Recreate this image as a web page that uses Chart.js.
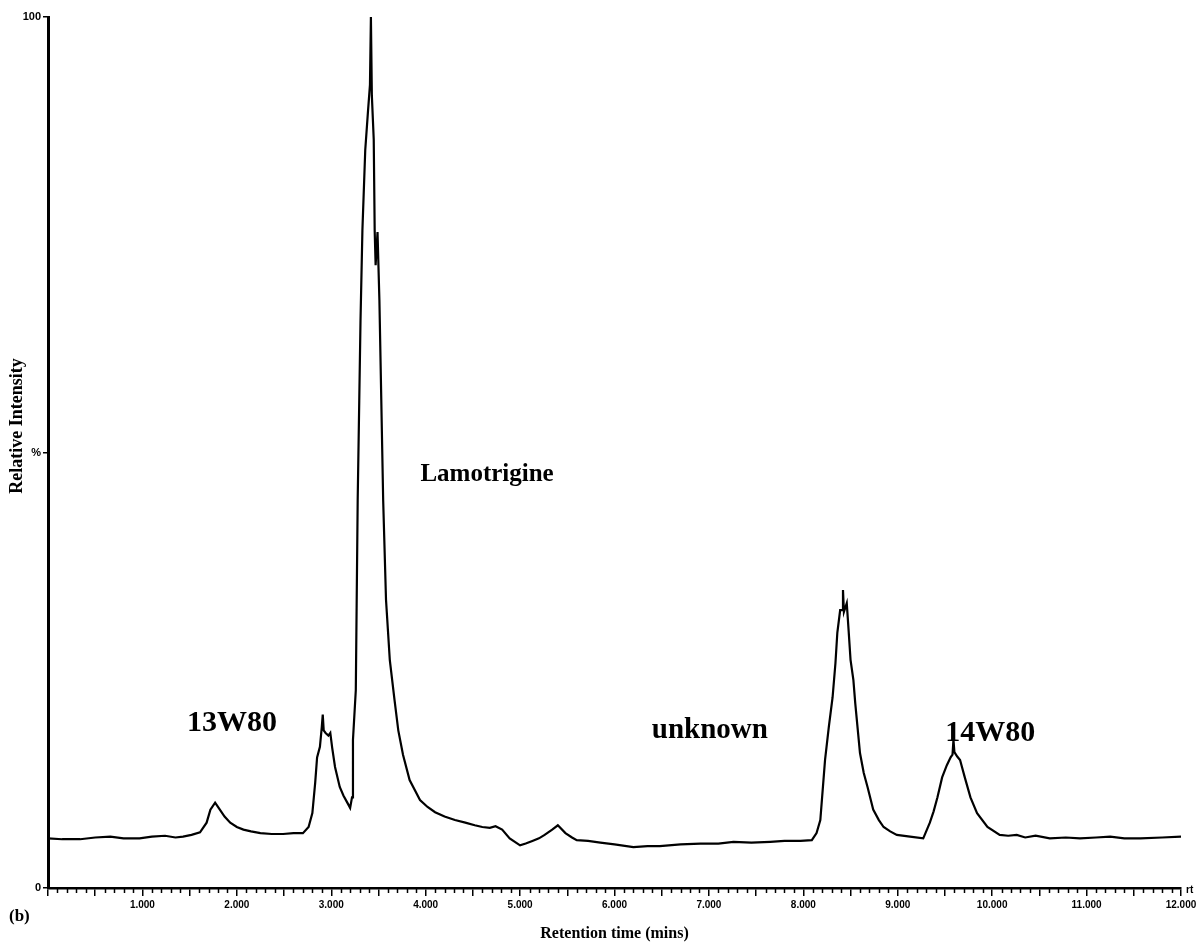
<!DOCTYPE html>
<html>
<head>
<meta charset="utf-8">
<title>Chromatogram (b)</title>
<script src="https://cdn.jsdelivr.net/npm/chart.js@4.4.1/dist/chart.umd.min.js"></script>
<style>
  html, body { margin: 0; padding: 0; background: #fff; }
</style>
</head>
<body>
<canvas id="myChart" width="1201" height="943"></canvas>
<script>
// *******************  data

// retention time (mins)
let retTime = [
  0.00, 0.15, 0.34, 0.50, 0.66, 0.80, 0.97, 1.10, 1.24, 1.35,
  1.43, 1.52, 1.61, 1.68, 1.72, 1.77, 1.82, 1.87, 1.93, 2.00,
  2.07, 2.15, 2.25, 2.37, 2.49, 2.60, 2.70, 2.76, 2.80, 2.83,
  2.85, 2.88, 2.90, 2.91, 2.92, 2.94, 2.97, 2.99, 3.01, 3.04,
  3.09, 3.13, 3.17, 3.20, 3.22, 3.23, 3.26, 3.28, 3.31, 3.33,
  3.36, 3.39, 3.41, 3.42, 3.43, 3.45, 3.46, 3.47, 3.49, 3.51,
  3.53, 3.55, 3.58, 3.62, 3.67, 3.71, 3.76, 3.83, 3.94, 4.02,
  4.10, 4.20, 4.31, 4.42, 4.52, 4.60, 4.68, 4.74, 4.81, 4.89,
  5.00, 5.06, 5.13, 5.20, 5.26, 5.34, 5.40, 5.48, 5.55, 5.60,
  5.72, 5.85, 6.00, 6.20, 6.35, 6.48, 6.70, 6.91, 7.10, 7.26,
  7.45, 7.65, 7.80, 7.97, 8.09, 8.14, 8.18, 8.23, 8.27, 8.31,
  8.34, 8.36, 8.39, 8.41, 8.42, 8.43, 8.46, 8.48, 8.50, 8.53,
  8.55, 8.60, 8.64, 8.68, 8.74, 8.80, 8.85, 8.92, 8.99, 9.13,
  9.27, 9.34, 9.38, 9.42, 9.47, 9.52, 9.56, 9.58, 9.59, 9.60,
  9.63, 9.66, 9.71, 9.77, 9.84, 9.95, 10.08, 10.17, 10.26, 10.35,
  10.46, 10.61, 10.78, 10.93, 11.10, 11.25, 11.40, 11.57, 11.80, 12.00
];

// relative intensity (%)
let intensity = [
  5.7, 5.6, 5.6, 5.8, 5.9, 5.7, 5.7, 5.9, 6.0, 5.8,
  5.9, 6.1, 6.4, 7.5, 9.0, 9.8, 9.0, 8.2, 7.5, 7.0,
  6.7, 6.5, 6.3, 6.2, 6.2, 6.3, 6.3, 7.0, 8.6, 12.1,
  15.0, 16.2, 18.5, 19.9, 18.1, 17.8, 17.5, 17.8, 16.1, 13.9,
  11.6, 10.6, 9.8, 9.2, 10.4, 17.0, 22.7, 44.5, 65.2, 75.5,
  84.7, 89.3, 92.2, 100, 91.0, 85.9, 75.5, 71.5, 75.3, 67.5,
  56.0, 44.5, 33.1, 26.2, 21.6, 18.1, 15.3, 12.4, 10.1, 9.3,
  8.7, 8.2, 7.8, 7.5, 7.2, 7.0, 6.9, 7.1, 6.7, 5.7,
  4.9, 5.1, 5.4, 5.7, 6.1, 6.7, 7.2, 6.3, 5.8, 5.5,
  5.4, 5.2, 5.0, 4.7, 4.8, 4.8, 5.0, 5.1, 5.1, 5.3,
  5.2, 5.3, 5.4, 5.4, 5.5, 6.3, 7.8, 14.7, 18.5, 21.9,
  25.8, 29.3, 31.9, 31.9, 34.2, 31.7, 32.7, 29.5, 26.2, 23.9,
  21.2, 15.5, 13.2, 11.6, 9.0, 7.8, 7.0, 6.5, 6.1, 5.9,
  5.7, 7.5, 8.8, 10.4, 12.7, 14.1, 15.0, 15.3, 17.0, 15.6,
  15.1, 14.7, 12.7, 10.4, 8.6, 7.0, 6.1, 6.0, 6.1, 5.8,
  6.0, 5.7, 5.8, 5.7, 5.8, 5.9, 5.7, 5.7, 5.8, 5.9
];

// y axis only carries 0, % and 100
let yTickValues = [0, 50, 100];
let yTickLabels = ['0', '%', '100'];

// peak names and where they sit (time, intensity)
let peakNames = ['13W80', 'Lamotrigine', 'unknown', '14W80'];
let peakNameTime = [1.95, 4.65, 7.01, 9.98];
let peakNameLevel = [18.9, 47.5, 18.1, 17.8];
let peakNameSize = [30, 25, 29, 30];

// *******************  build points

let points = [];
for (let i = 0; i < retTime.length; i++) {
  points.push({ x: retTime[i], y: intensity[i] });
}

// *******************  extra drawing: minor ticks, titles, peak names

const extras = {
  id: 'extras',
  afterDraw(chart) {
    const c = chart.ctx;
    const xs = chart.scales.x;
    const ys = chart.scales.y;
    c.save();
    c.strokeStyle = '#000';
    c.lineWidth = 1.5;
    // minor ticks every 0.1 min
    for (let i = 1; i < 120; i++) {
      if (i % 5 === 0) continue;
      let px = Math.round(xs.getPixelForValue(i / 10)) + 0.5;
      c.beginPath();
      c.moveTo(px, ys.bottom);
      c.lineTo(px, ys.bottom + 5);
      c.stroke();
    }
    c.fillStyle = '#000';
    // y title
    c.save();
    c.translate(17, 426);
    c.rotate(-Math.PI / 2);
    c.textAlign = 'center';
    c.textBaseline = 'middle';
    c.font = 'bold 18px "Liberation Serif"';
    c.fillText('Relative Intensity', 0, 0);
    c.restore();
    // panel letter and rt mark
    c.textAlign = 'left';
    c.textBaseline = 'alphabetic';
    c.font = 'bold 17px "Liberation Serif"';
    c.fillText('(b)', 9, 921);
    c.font = 'bold 10px "Liberation Sans"';
    c.fillText('rt', 1186, 893);
    // peak names
    c.textAlign = 'center';
    c.textBaseline = 'middle';
    for (let i = 0; i < peakNames.length; i++) {
      c.font = 'bold ' + peakNameSize[i] + 'px "Liberation Serif"';
      c.fillText(peakNames[i], xs.getPixelForValue(peakNameTime[i]), ys.getPixelForValue(peakNameLevel[i]));
    }
    c.restore();
  }
};

// *******************  chart

let ctx = document.getElementById('myChart');

new Chart(ctx, {
  type: 'scatter',
  data: {
    datasets: [{
      data: points,
      showLine: true,
      borderColor: '#000',
      borderWidth: 2.2,
      pointRadius: 0,
      tension: 0
    }]
  },
  options: {
    responsive: false,
    animation: false,
    devicePixelRatio: 1,
    layout: { padding: { top: 17, right: 20, left: 0, bottom: 0 } },
    plugins: {
      legend: { display: false },
      tooltip: { enabled: false }
    },
    scales: {
      x: {
        type: 'linear',
        min: 0,
        max: 12,
        afterFit: (scale) => { scale.height = 55; },
        border: { display: true, color: '#000', width: 2.5 },
        grid: { display: true, drawOnChartArea: false, drawTicks: true, tickLength: 8, color: '#000', lineWidth: 1.5 },
        ticks: {
          stepSize: 0.5,
          autoSkip: false,
          maxRotation: 0,
          padding: 3,
          color: '#000',
          font: { family: '"Liberation Sans"', size: 10, weight: 'bold' },
          callback: (v) => (v > 0 && Math.abs(v - Math.round(v)) < 1e-6) ? v.toFixed(3) : ''
        },
        title: {
          display: true,
          text: 'Retention time (mins)',
          color: '#000',
          padding: { top: 0, bottom: 0 },
          font: { family: '"Liberation Serif"', size: 16, weight: 'bold' }
        }
      },
      y: {
        min: 0,
        max: 100,
        afterFit: (scale) => { scale.width = 48; },
        afterBuildTicks: (scale) => { scale.ticks = yTickValues.map(v => ({ value: v })); },
        border: { display: true, color: '#000', width: 3 },
        grid: { display: true, drawOnChartArea: false, drawTicks: true, tickLength: 5, color: '#000', lineWidth: 1.5 },
        ticks: {
          padding: 2,
          color: '#000',
          font: { family: '"Liberation Sans"', size: 11, weight: 'bold' },
          callback: (v) => yTickLabels[yTickValues.indexOf(v)]
        }
      }
    }
  },
  plugins: [extras]
});
</script>
</body>
</html>
